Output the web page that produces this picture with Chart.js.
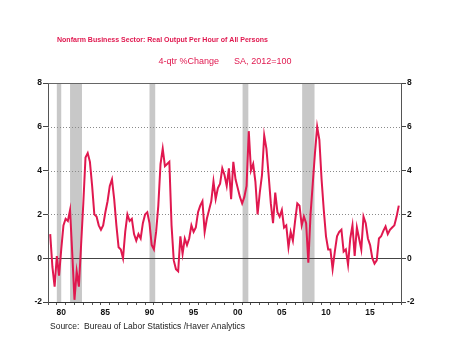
<!DOCTYPE html>
<html>
<head>
<meta charset="utf-8">
<title>Nonfarm Business Sector: Real Output Per Hour of All Persons</title>
<script src="https://cdn.jsdelivr.net/npm/chart.js@4.4.1/dist/chart.umd.min.js"></script>
<style>
  html, body { margin: 0; padding: 0; background: #fff; }
  #wrap { width: 450px; height: 337px; position: relative; }
</style>
</head>
<body>
<div id="wrap"><canvas id="productivity-chart" width="450" height="337"></canvas></div>
<script>
// Real output per hour, 4-qtr % change, one row per year (Q1..Q4), 1979Q1 - 2018Q3
const firstYear = 1979;
const outputPerHour = [
  1.1, -0.4, -1.3, 0.1,
  -0.8, 0.4, 1.5, 1.8,
  1.7, 2.2, 0.2, -1.9,
  -0.6, -1.3, 0.6, 2.5,
  4.6, 4.8, 4.4, 3.3,
  2.0, 1.9, 1.5, 1.3,
  1.5, 2.1, 2.6, 3.3,
  3.6, 2.7, 1.5, 0.5,
  0.4, 0.0, 1.2, 2.0,
  1.7, 1.8, 1.1, 0.8,
  1.1, 0.9, 1.6, 2.0,
  2.1, 1.6, 0.6, 0.4,
  1.2, 2.4, 4.3, 5.0,
  4.2, 4.3, 4.4, 1.5,
  -0.1, -0.5, -0.6, 1.0,
  0.2, 0.9, 0.6, 0.9,
  1.5, 1.2, 1.4, 2.1,
  2.4, 2.6, 1.2, 1.8,
  2.2, 2.6, 3.5, 2.7,
  3.2, 3.4, 4.1, 3.8,
  3.3, 4.1, 2.7, 4.4,
  3.6, 3.2, 2.8, 2.5,
  2.8, 3.3, 5.8, 4.0,
  4.3, 3.5, 2.0, 3.0,
  3.8, 5.6, 5.0, 3.8,
  2.5, 1.6, 3.0, 2.1,
  1.9, 2.2, 1.4, 1.5,
  0.5, 1.2, 0.8, 1.7,
  2.5, 2.4, 1.5, 1.9,
  1.6, -0.2, 2.0, 3.4,
  4.8, 6.0, 5.4, 3.6,
  2.2, 1.0, 0.4, 0.4,
  -0.5, 0.3, 1.0, 1.2,
  1.3, 0.3, 0.4, -0.3,
  0.9, 1.5, 0.1, 1.4,
  0.9, 0.4, 1.9, 1.6,
  0.9, 0.6, 0.0, -0.25,
  -0.1, 0.9, 1.0, 1.25,
  1.45, 1.1, 1.3, 1.4,
  1.5, 1.9, 2.4
];

// NBER recessions (fractional years)
const recessionStart = [1980.0, 1981.5, 1990.5, 2001.05, 2007.8];
const recessionEnd = [1980.5, 1982.85, 1991.15, 2001.7, 2009.2];

const yearTicks = [];
for (let y = 1979; y <= 2019; y++) yearTicks.push(y);
const labelYears = [1980, 1985, 1990, 1995, 2000, 2005, 2010, 2015];
const yearLabels = ["80", "85", "90", "95", "00", "05", "10", "15"];
const valueTicks = [-2, 0, 2, 4, 6, 8];

// each quarter is plotted at the end of its period
const points = outputPerHour.map((v, i) => ({ x: firstYear + (i + 1) / 4, y: v }));

const RED = "#e0184f";
const TICK_FONT = { family: "'Liberation Sans', Arial, sans-serif", size: 8.5, weight: "bold" };

const plotDecor = {
  id: "plotDecor",
  beforeDatasetsDraw(chart) {
    const { ctx, chartArea, scales } = chart;
    const x = scales.x, y = scales.y;
    ctx.save();
    // recession shading
    ctx.fillStyle = "#c8c8c8";
    recessionStart.forEach((s, i) => {
      const x0 = x.getPixelForValue(s);
      const x1 = x.getPixelForValue(recessionEnd[i]);
      ctx.fillRect(x0, chartArea.top, x1 - x0, chartArea.bottom - chartArea.top);
    });
    // dotted guides
    ctx.lineWidth = 1;
    ctx.strokeStyle = "#8a8a8a";
    ctx.setLineDash([1, 2]);
    [2, 4, 6].forEach(v => {
      const py = Math.round(y.getPixelForValue(v)) + 0.5;
      ctx.beginPath();
      ctx.moveTo(chartArea.left, py);
      ctx.lineTo(chartArea.right, py);
      ctx.stroke();
    });
    ctx.setLineDash([]);
    // zero line and top frame
    ctx.strokeStyle = "#444";
    let py = Math.round(y.getPixelForValue(0)) + 0.5;
    ctx.beginPath();
    ctx.moveTo(chartArea.left, py);
    ctx.lineTo(chartArea.right, py);
    ctx.stroke();
    ctx.strokeStyle = "#666";
    py = Math.round(y.getPixelForValue(8)) + 0.5;
    ctx.beginPath();
    ctx.moveTo(chartArea.left, py);
    ctx.lineTo(chartArea.right, py);
    ctx.stroke();
    ctx.restore();
  },
  afterDraw(chart) {
    const { ctx } = chart;
    ctx.save();
    ctx.fillStyle = RED;
    ctx.textBaseline = "middle";
    ctx.textAlign = "left";
    // narrow headline: squeezed to its printed width
    ctx.font = "bold 8px 'Liberation Sans', Arial, sans-serif";
    ctx.fillText("Nonfarm Business Sector: Real Output Per Hour of All Persons", 57, 40, 211);
    ctx.textAlign = "center";
    ctx.font = "9px 'Liberation Sans', Arial, sans-serif";
    ctx.fillText("4-qtr %Change      SA, 2012=100", 225, 62);
    ctx.textAlign = "left";
    ctx.fillStyle = "#222";
    ctx.font = "8.5px 'Liberation Sans', Arial, sans-serif";
    ctx.fillText("Source:  Bureau of Labor Statistics /Haver Analytics", 50, 327);
    ctx.restore();
  }
};

const yAxis = (position, width) => ({
  type: "linear",
  position,
  min: -2,
  max: 8,
  afterBuildTicks: scale => { scale.ticks = valueTicks.map(v => ({ value: v })); },
  afterFit: scale => { scale.width = width; },
  grid: { drawOnChartArea: false, drawTicks: true, tickLength: 5, color: "#444" },
  border: { display: true, color: "#555", width: 1 },
  ticks: { color: "#111", font: TICK_FONT, padding: 1 }
});

new Chart(document.getElementById("productivity-chart"), {
  type: "line",
  data: {
    datasets: [{
      data: points,
      borderColor: RED,
      borderWidth: 2,
      pointRadius: 0,
      tension: 0,
      yAxisID: "y"
    }]
  },
  options: {
    responsive: false,
    animation: false,
    devicePixelRatio: 1,
    layout: { padding: { top: 83, left: 0, right: 0, bottom: 0 } },
    plugins: { legend: { display: false }, tooltip: { enabled: false }, title: { display: false } },
    scales: {
      x: {
        type: "linear",
        min: 1979,
        max: 2019,
        afterBuildTicks: scale => { scale.ticks = yearTicks.map(v => ({ value: v })); },
        afterFit: scale => { scale.height = 35; },
        grid: { drawOnChartArea: false, drawTicks: true, tickLength: 3, color: "#555" },
        border: { display: true, color: "#333", width: 1 },
        ticks: {
          autoSkip: false,
          maxRotation: 0,
          labelOffset: 4.4,
          padding: 3,
          color: "#111",
          font: TICK_FONT,
          callback: v => {
            const i = labelYears.indexOf(v);
            return i >= 0 ? yearLabels[i] : "";
          }
        }
      },
      y: yAxis("left", 48),
      y2: yAxis("right", 49)
    }
  },
  plugins: [plotDecor]
});
</script>
</body>
</html>
